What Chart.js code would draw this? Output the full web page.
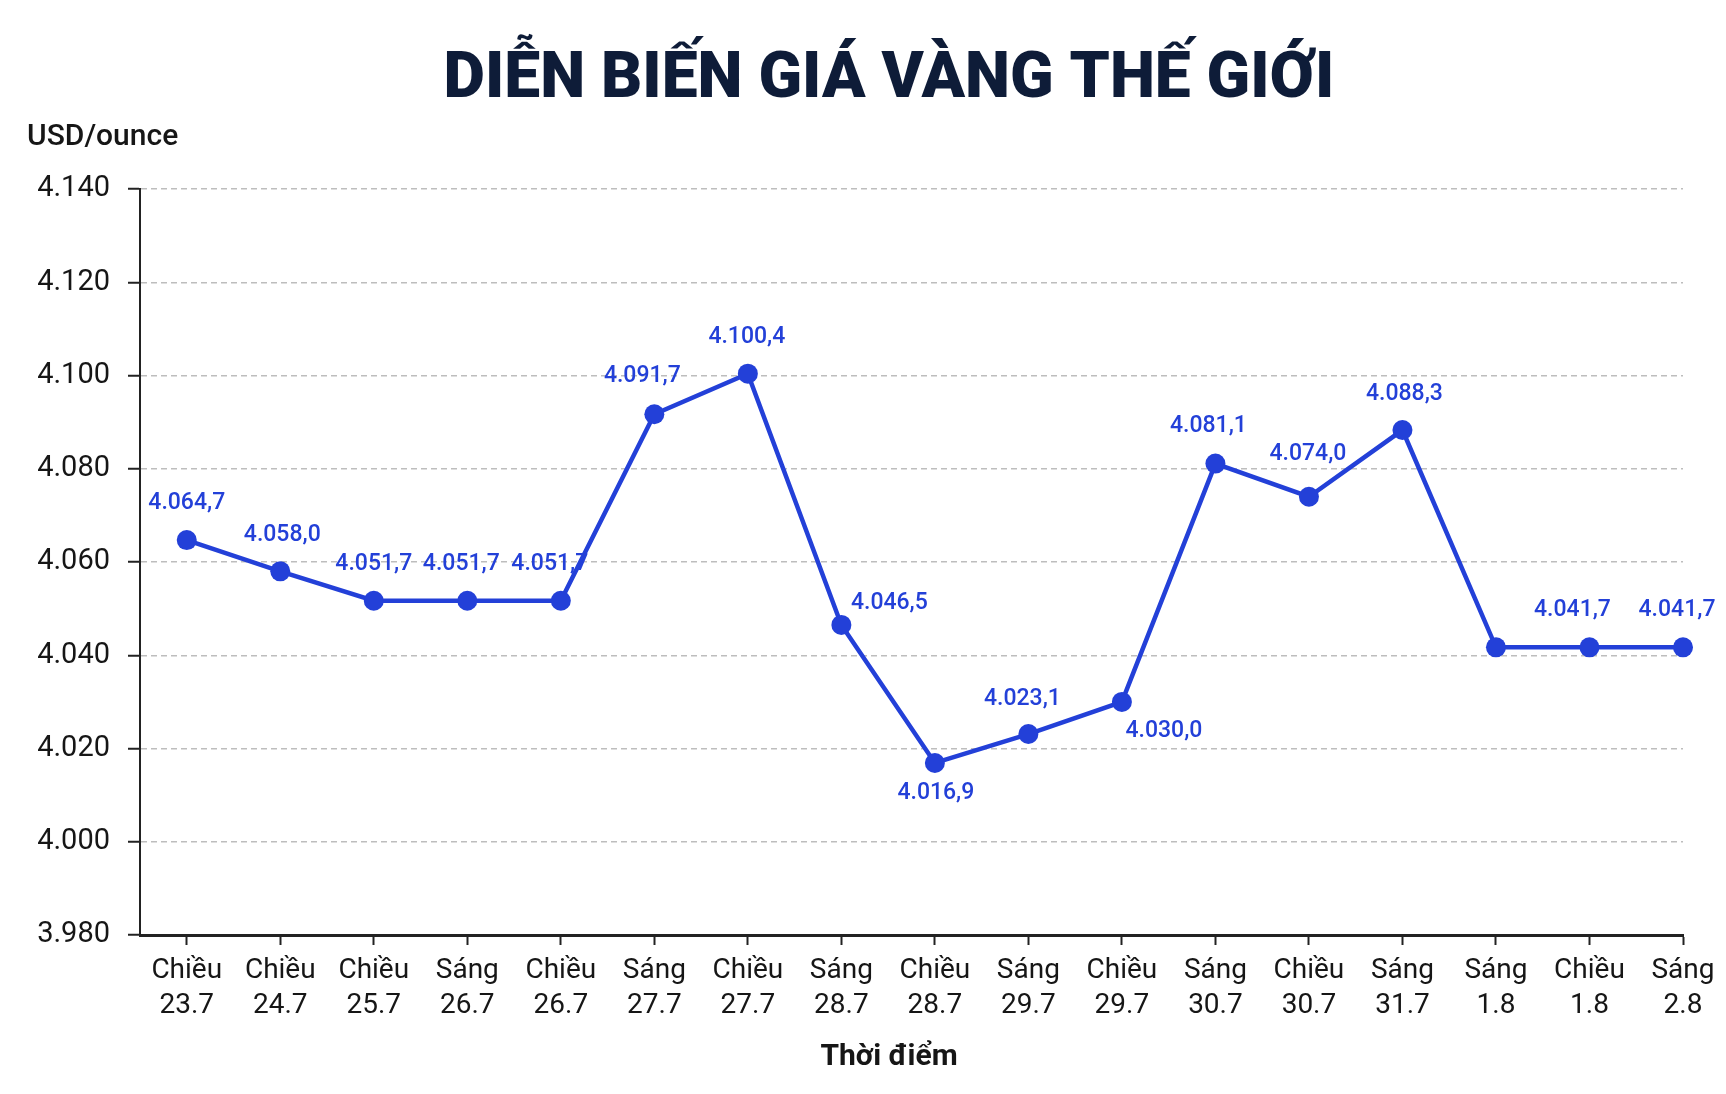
<!DOCTYPE html>
<html lang="vi">
<head>
<meta charset="utf-8">
<title>Diễn biến giá vàng thế giới</title>
<script src="https://cdn.jsdelivr.net/npm/chart.js@4.4.1/dist/chart.umd.min.js"></script>
<style>
  html, body { margin: 0; padding: 0; background: #fff; }
  #wrap { width: 1726px; height: 1094px; }
</style>
</head>
<body>
<div id="wrap"><canvas id="chart" width="1726" height="1094"></canvas></div>
<script>
// data
const sessions = ['Chiều', 'Chiều', 'Chiều', 'Sáng', 'Chiều', 'Sáng', 'Chiều', 'Sáng', 'Chiều',
                  'Sáng', 'Chiều', 'Sáng', 'Chiều', 'Sáng', 'Sáng', 'Chiều', 'Sáng'];
const dates = ['23.7', '24.7', '25.7', '26.7', '26.7', '27.7', '27.7', '28.7', '28.7',
               '29.7', '29.7', '30.7', '30.7', '31.7', '1.8', '1.8', '2.8'];
const prices = [4064.7, 4058.0, 4051.7, 4051.7, 4051.7, 4091.7, 4100.4, 4046.5, 4016.9,
                4023.1, 4030.0, 4081.1, 4074.0, 4088.3, 4041.7, 4041.7, 4041.7];
const yTicks = [3980, 4000, 4020, 4040, 4060, 4080, 4100, 4120, 4140];

const BLUE = '#2340d8';
const INK = '#161616';

// vietnamese number format: 4.064,7
function fmt(v, dec) {
  const parts = v.toFixed(dec).split('.');
  parts[0] = parts[0].replace(/\B(?=(\d{3})+(?!\d))/g, '.');
  return parts.join(',');
}

// where each value label sits relative to its point (null = no label)
const labelShift = [
  [0, -37], [2, -36], [0, -36], [-6, -36], [-11, -36], [-12, -38], [-1, -36], [48, -22], [1, 30],
  [-6, -35], [42, 29], [-7, -37], [-1, -42], [2, -36], null, [-17, -37], [-6, -37]
];

const valueLabels = {
  id: 'valueLabels',
  afterDatasetsDraw(chart) {
    const ctx = chart.ctx;
    const meta = chart.getDatasetMeta(0);
    ctx.save();
    ctx.font = '500 23px Roboto';
    ctx.fillStyle = BLUE;
    ctx.textAlign = 'center';
    ctx.textBaseline = 'middle';
    meta.data.forEach((pt, i) => {
      const s = labelShift[i];
      if (!s) return;
      ctx.fillText(fmt(prices[i], 1), pt.x + s[0], pt.y + s[1]);
    });
    ctx.restore();
  }
};

const texts = {
  id: 'texts',
  afterDraw(chart) {
    const ctx = chart.ctx;
    ctx.save();
    // main title
    const title = 'DIỄN BIẾN GIÁ VÀNG THẾ GIỚI';
    ctx.font = '900 64px Roboto';
    ctx.fillStyle = '#0e1c38';
    ctx.textBaseline = 'alphabetic';
    ctx.textAlign = 'center';
    const w = ctx.measureText(title).width;
    const sx = Math.min(1, 894 / w);
    ctx.translate(889, 97);
    ctx.scale(sx, 1);
    ctx.fillText(title, 0, 0);
    ctx.setTransform(1, 0, 0, 1, 0, 0);
    // unit
    ctx.font = '500 30px Roboto';
    ctx.fillStyle = INK;
    ctx.textAlign = 'left';
    ctx.textBaseline = 'middle';
    ctx.fillText('USD/ounce', 27, 137);
    // x axis title
    ctx.font = '700 30px Roboto';
    ctx.textAlign = 'center';
    ctx.fillText('Thời điểm', 889, 1057);
    ctx.restore();
  }
};

const ctx = document.getElementById('chart').getContext('2d');

const goldChart = new Chart(ctx, {
  type: 'line',
  data: {
    datasets: [{
      label: 'Giá vàng',
      data: prices.map((p, i) => ({ x: i, y: p })),
      borderColor: BLUE,
      backgroundColor: BLUE,
      borderWidth: 4.5,
      pointRadius: 10,
      pointHoverRadius: 10,
      pointBackgroundColor: BLUE,
      pointBorderWidth: 0,
      tension: 0,
      clip: false
    }]
  },
  options: {
    responsive: false,
    animation: false,
    devicePixelRatio: 1,
    layout: { padding: { top: 189, right: 43, bottom: 0, left: 0 } },
    plugins: {
      legend: { display: false },
      title: { display: false },
      tooltip: { enabled: false }
    },
    scales: {
      x: {
        type: 'linear',
        min: -0.5,
        max: 16,
        afterBuildTicks: axis => { axis.ticks = dates.map((_, i) => ({ value: i })); },
        afterFit: axis => { axis.height = 159; },
        grid: {
          drawOnChartArea: false,
          drawTicks: true,
          tickLength: 10,
          tickColor: '#222',
          tickWidth: 2,
          tickBorderDash: []
        },
        border: { color: '#222', width: 3 },
        ticks: {
          autoSkip: false,
          maxRotation: 0,
          padding: 8,
          color: INK,
          font: { family: 'Roboto', size: 28, lineHeight: 1.25 },
          callback: v => [sessions[v], dates[v]]
        }
      },
      y: {
        min: 3980,
        max: 4140,
        afterBuildTicks: axis => { axis.ticks = yTicks.map(v => ({ value: v })); },
        afterFit: axis => { axis.width = 140; },
        grid: {
          color: '#bdbdbd',
          lineWidth: 1.5,
          drawTicks: true,
          tickLength: 12,
          tickColor: '#222',
          tickWidth: 2,
          tickBorderDash: []
        },
        border: { color: '#222', width: 2, dash: [6, 4] },
        ticks: {
          padding: 18,
          color: INK,
          font: { family: 'Roboto', size: 29 },
          callback: v => fmt(v, 0)
        }
      }
    }
  },
  plugins: [valueLabels, texts]
});
</script>
</body>
</html>
